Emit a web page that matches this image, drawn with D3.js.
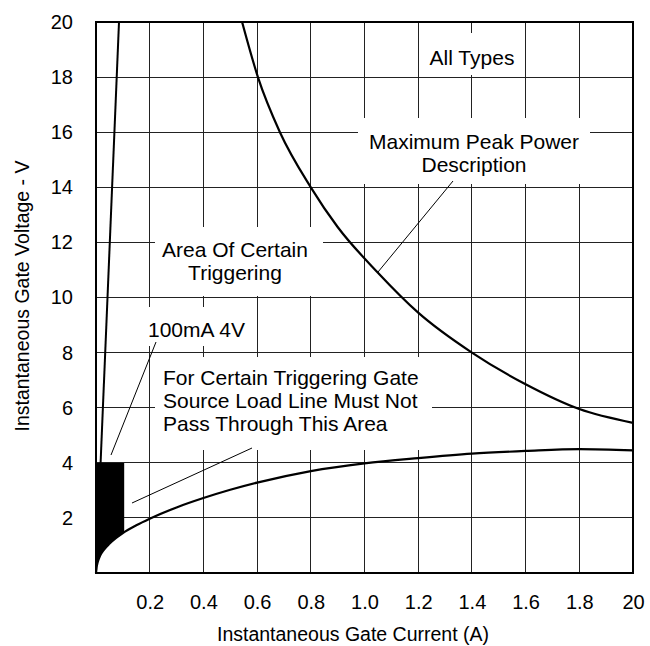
<!DOCTYPE html>
<html>
<head>
<meta charset="utf-8">
<script src="https://cdn.jsdelivr.net/npm/d3@7"></script>
<style>
  html, body { margin: 0; padding: 0; background: #fff; }
  svg { display: block; font-family: Arial, 'Liberation Sans', sans-serif; }
</style>
</head>
<body>
<svg id="chart" width="650" height="646"></svg>
<script>
// Gate characteristic values (current in A, voltage in V)
const xTicks = [0.2, 0.4, 0.6, 0.8, 1.0, 1.2, 1.4, 1.6, 1.8, 2.0];
const xTickLabels = ['0.2', '0.4', '0.6', '0.8', '1.0', '1.2', '1.4', '1.6', '1.8', '20'];
const yTicks = [2, 4, 6, 8, 10, 12, 14, 16, 18, 20];
const yTickLabels = ['2', '4', '6', '8', '10', '12', '14', '16', '18', '20'];

// Maximum peak power curve
const peakCurrent = [0.544, 0.603, 0.685, 0.8, 0.9, 1.05, 1.2, 1.4, 1.6, 1.8, 2.0];
const peakVoltage = [20, 18, 16, 14, 12.56, 10.9, 9.45, 8.0, 6.85, 5.95, 5.45];

// Minimum gate characteristic (lower curve)
const minCurrent = [0, 0.002, 0.006, 0.015, 0.03, 0.05, 0.075, 0.1, 0.15, 0.2, 0.3, 0.4, 0.5, 0.6, 0.8, 1.0, 1.2, 1.4, 1.6, 1.8, 2.0];
const minVoltage = [0, 0.2, 0.38, 0.62, 0.85, 1.06, 1.27, 1.45, 1.73, 1.97, 2.38, 2.72, 3.02, 3.28, 3.7, 3.98, 4.17, 4.33, 4.43, 4.5, 4.45];

// Maximum gate characteristic (steep line)
const maxCurrent = [0, 0.0857];
const maxVoltage = [0, 20];

// Forbidden area: 100mA, 4V
const forbidI = 0.105;
const forbidV = 4;

const svg = d3.select('#chart');
const margin = { top: 22, right: 17, bottom: 73, left: 96 };
const width = 650 - margin.left - margin.right;
const height = 646 - margin.top - margin.bottom;

const x = d3.scaleLinear().domain([0, 2]).range([margin.left, margin.left + width]);
const y = d3.scaleLinear().domain([0, 20]).range([margin.top + height, margin.top]);

// Grid
const grid = svg.append('g').attr('stroke', '#222').attr('stroke-width', 1).attr('shape-rendering', 'crispEdges');
grid.selectAll('.vg').data(xTicks.slice(0, -1)).join('line')
  .attr('x1', d => x(d)).attr('x2', d => x(d))
  .attr('y1', y(0)).attr('y2', y(20));
grid.selectAll('.hg').data(yTicks.slice(0, -1)).join('line')
  .attr('x1', x(0)).attr('x2', x(2))
  .attr('y1', d => y(d)).attr('y2', d => y(d));

// Annotation layout (pixels)
const notes = [
  { lines: ['All Types'], cx: 472, base: 65, anchor: 'middle', box: [420, 33, 522, 75] },
  { lines: ['Maximum Peak Power', 'Description'], cx: 474, base: 149, anchor: 'middle', box: [358, 118, 590, 184] },
  { lines: ['Area Of Certain', 'Triggering'], cx: 235, base: 257, anchor: 'middle', box: [155, 227, 323, 296] },
  { lines: ['100mA 4V'], cx: 148, base: 337, anchor: 'start', box: [148, 307, 250, 346] },
  { lines: ['For Certain Triggering Gate', 'Source Load Line Must Not', 'Pass Through This Area'], cx: 163, base: 385, anchor: 'start', box: [155, 357, 432, 450] }
];
const leaders = [
  [453, 181, 378, 272],
  [156, 342, 111, 455],
  [252, 448, 132, 503]
];

svg.append('g').selectAll('rect').data(notes).join('rect')
  .attr('x', d => d.box[0]).attr('y', d => d.box[1])
  .attr('width', d => d.box[2] - d.box[0]).attr('height', d => d.box[3] - d.box[1])
  .attr('fill', '#fff');

// Forbidden area (filled between lower curve and 4V, up to 100mA)
svg.append('clipPath').attr('id', 'forbid')
  .append('rect')
  .attr('x', x(0)).attr('y', y(forbidV))
  .attr('width', x(forbidI) - x(0)).attr('height', y(0) - y(forbidV));

const minData = minCurrent.map((c, i) => [c, minVoltage[i]]);
svg.append('path')
  .datum(minData.filter(d => d[0] <= 0.2))
  .attr('clip-path', 'url(#forbid)')
  .attr('fill', '#000')
  .attr('d', d3.area().x(d => x(d[0])).y0(y(forbidV)).y1(d => y(d[1])).curve(d3.curveMonotoneX));

const line = d3.line().x(d => x(d[0])).y(d => y(d[1])).curve(d3.curveMonotoneX);

svg.append('path')
  .datum(minData)
  .attr('fill', 'none').attr('stroke', '#000').attr('stroke-width', 2.2)
  .attr('d', line);

svg.append('path')
  .datum(peakCurrent.map((c, i) => [c, peakVoltage[i]]))
  .attr('fill', 'none').attr('stroke', '#000').attr('stroke-width', 2.2)
  .attr('d', line);

svg.append('path')
  .datum(maxCurrent.map((c, i) => [c, maxVoltage[i]]))
  .attr('fill', 'none').attr('stroke', '#000').attr('stroke-width', 2)
  .attr('d', d3.line().x(d => x(d[0])).y(d => y(d[1])));

// Border
svg.append('rect')
  .attr('x', x(0)).attr('y', y(20))
  .attr('width', x(2) - x(0)).attr('height', y(0) - y(20))
  .attr('fill', 'none').attr('stroke', '#000').attr('stroke-width', 1.5)
  .attr('shape-rendering', 'crispEdges');

// Leader lines
svg.append('g').attr('stroke', '#000').attr('stroke-width', 1)
  .selectAll('line').data(leaders).join('line')
  .attr('x1', d => d[0]).attr('y1', d => d[1])
  .attr('x2', d => d[2]).attr('y2', d => d[3]);

// Annotation text
svg.append('g').attr('font-size', 21).attr('fill', '#000')
  .selectAll('text').data(notes).join('text')
  .attr('text-anchor', d => d.anchor)
  .each(function (d) {
    d3.select(this).selectAll('tspan').data(d.lines).join('tspan')
      .attr('x', d.cx)
      .attr('y', (t, i) => d.base + i * 23)
      .text(t => t);
  });

// Axes
const xAxis = svg.append('g')
  .attr('transform', `translate(0,${y(0)})`)
  .call(d3.axisBottom(x).tickValues(xTicks).tickSize(0).tickPadding(22)
    .tickFormat((d, i) => xTickLabels[i]));
xAxis.select('.domain').remove();
xAxis.selectAll('text').attr('font-size', 20).attr('font-family', null).attr('fill', '#000');

const yAxis = svg.append('g')
  .attr('transform', `translate(${x(0)},0)`)
  .call(d3.axisLeft(y).tickValues(yTicks).tickSize(0).tickPadding(23)
    .tickFormat((d, i) => yTickLabels[i]));
yAxis.select('.domain').remove();
yAxis.selectAll('text').attr('font-size', 20).attr('font-family', null).attr('fill', '#000');

// Axis titles
svg.append('text')
  .attr('x', 353).attr('y', 641)
  .attr('text-anchor', 'middle').attr('font-size', 19.5)
  .text('Instantaneous Gate Current (A)');

svg.append('text')
  .attr('transform', 'rotate(-90)')
  .attr('x', -296).attr('y', 29)
  .attr('text-anchor', 'middle').attr('font-size', 19.5)
  .text('Instantaneous Gate Voltage - V');
</script>
</body>
</html>
